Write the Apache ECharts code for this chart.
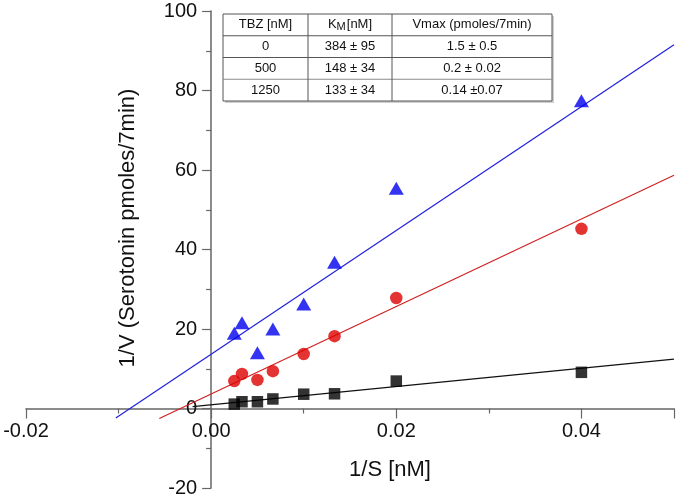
<!DOCTYPE html>
<html>
<head>
<meta charset="utf-8">
<script src="https://cdn.jsdelivr.net/npm/echarts@6/dist/echarts.min.js"></script>
<style>
html,body{margin:0;padding:0;background:#fff;}
#chart{width:677px;height:496px;}
</style>
</head>
<body>
<div id="chart"></div>
<script>
// ---- data ----
var xTickLabels = ['-0.02', '0.00', '0.02', '0.04'];
var yTickLabels = ['-20', '0', '20', '40', '60', '80', '100'];

var tbz0 = [[0.0025, 1.1], [0.00333, 1.7], [0.005, 1.7], [0.00667, 2.4], [0.01, 3.6], [0.01333, 3.7], [0.02, 6.9], [0.04, 9.1]];
var tbz500 = [[0.0025, 6.9], [0.00333, 8.7], [0.005, 7.2], [0.00667, 9.4], [0.01, 13.7], [0.01333, 18.2], [0.02, 27.8], [0.04, 45.2]];
var tbz1250 = [[0.0025, 18.9], [0.00333, 21.6], [0.005, 14.0], [0.00667, 20.0], [0.01, 26.3], [0.01333, 36.8], [0.02, 55.4], [0.04, 77.4]];

var fit0 = [[-0.002, 0.45], [0.05, 12.4]];
var fit500 = [[-0.0056, -2.5], [0.05, 58.7]];
var fit1250 = [[-0.0103, -2.4], [0.05, 91.5]];

var tableHeader = ['TBZ [nM]', 'KM[nM]', 'Vmax (pmoles/7min)'];
var tableRows = [
  ['0', '384 \u00B1 95', '1.5 \u00B1 0.5'],
  ['500', '148 \u00B1 34', '0.2 \u00B1 0.02'],
  ['1250', '133 \u00B1 34', '0.14 \u00B10.07']
];

// ---- chart ----
var W = 677, H = 496;
var GL = 26, GR = 3, GT = 11, GB = 8;
var XMIN = -0.02, XMAX = 0.05, YMIN = -20, YMAX = 100;
// shift axes so they cross at the origin (labels travel with the lines)
var yAxisOffset = -((0 - XMIN) / (XMAX - XMIN)) * (W - GL - GR);
var xAxisOffset = -((0 - YMIN) / (YMAX - YMIN)) * (H - GT - GB);

var chart = echarts.init(document.getElementById('chart'), null, {renderer: 'canvas'});
var FONT = 'Liberation Sans, Arial, sans-serif';
var axisGray = '#666666';

// table graphic
var tX = 223, tY = 14, colX = [223, 308, 392, 552], rowH = 21.75;
var tW = colX[3] - colX[0], tH = rowH * 4;
var g = [];
g.push({type: 'rect', shape: {x: tX + 2, y: tY + 2, width: tW, height: tH}, style: {fill: '#cfcfcf'}, z: 10});
g.push({type: 'rect', shape: {x: tX, y: tY, width: tW, height: tH}, style: {fill: '#fff', stroke: '#555', lineWidth: 1}, z: 11});
for (var r = 1; r < 4; r++) {
  g.push({type: 'line', shape: {x1: tX, y1: tY + rowH * r, x2: tX + tW, y2: tY + rowH * r}, style: {stroke: r === 3 ? '#8a8a8a' : '#555', lineWidth: 1}, z: 12});
}
for (var c = 1; c < 3; c++) {
  g.push({type: 'line', shape: {x1: colX[c], y1: tY, x2: colX[c], y2: tY + tH}, style: {stroke: '#555', lineWidth: 1}, z: 12});
}
function cellText(txt, col, row) {
  return {type: 'text', x: (colX[col] + colX[col + 1]) / 2, y: tY + rowH * row + rowH / 2, z: 13,
    style: {text: txt, font: '13px ' + FONT, fill: '#111', align: 'center', verticalAlign: 'middle'}};
}
g.push(cellText(tableHeader[0], 0, 0));
g.push(cellText(tableHeader[2], 2, 0));
var kmCx = (colX[1] + colX[2]) / 2, kmCy = tY + rowH / 2;
g.push({type: 'text', x: kmCx, y: kmCy, z: 13,
  style: {text: '{k|K}{m|M}{n|[nM]}', align: 'center', verticalAlign: 'middle',
    rich: {k: {font: '13px ' + FONT, fill: '#111'},
           m: {font: '11px ' + FONT, fill: '#111', padding: [5, 1, 0, 0]},
           n: {font: '13px ' + FONT, fill: '#111'}}}});
for (var i = 0; i < tableRows.length; i++) {
  for (var j = 0; j < 3; j++) g.push(cellText(tableRows[i][j], j, i + 1));
}
// axis titles
g.push({type: 'text', x: 390, y: 470, z: 5,
  style: {text: '1/S [nM]', font: '22px ' + FONT, fill: '#111', align: 'center', verticalAlign: 'middle'}});
g.push({type: 'text', x: 128, y: 228, rotation: Math.PI / 2, z: 5,
  style: {text: '1/V (Serotonin pmoles/7min)', font: '22px ' + FONT, fill: '#111', align: 'center', verticalAlign: 'middle'}});

var option = {
  backgroundColor: '#fff',
  animation: false,
  grid: {left: GL, right: GR, top: GT, bottom: GB, containLabel: false, outerBoundsMode: 'none'},
  xAxis: {
    type: 'value', min: XMIN, max: XMAX, interval: 0.02, position: 'bottom', offset: xAxisOffset,
    axisLine: {onZero: false, lineStyle: {color: axisGray, width: 1.5}},
    axisTick: {show: true, inside: false, length: 10, lineStyle: {color: axisGray, width: 1.2}},
    minorTick: {show: true, splitNumber: 2, length: 5, lineStyle: {color: axisGray, width: 1.2}},
    splitLine: {show: false},
    axisLabel: {
      margin: 13, fontSize: 20, fontFamily: FONT, color: '#111', hideOverlap: false,
      formatter: function (v) {
        var k = Math.round(v * 100);
        var idx = xTickLabels.indexOf((k / 100).toFixed(2));
        return idx >= 0 ? xTickLabels[idx] : '';
      }
    }
  },
  yAxis: {
    type: 'value', min: YMIN, max: YMAX, interval: 20, position: 'left', offset: yAxisOffset,
    axisLine: {onZero: false, lineStyle: {color: axisGray, width: 1.5}},
    axisTick: {show: true, inside: false, length: 9, lineStyle: {color: axisGray, width: 1.2}},
    minorTick: {show: true, splitNumber: 2, length: 5, lineStyle: {color: axisGray, width: 1.2}},
    splitLine: {show: false},
    axisLabel: {
      margin: 14, fontSize: 20, fontFamily: FONT, color: '#111', hideOverlap: false,
      formatter: function (v) {
        var s = String(Math.round(v));
        return yTickLabels.indexOf(s) >= 0 ? s : '';
      }
    }
  },
  graphic: g,
  series: [
    {name: 'fit 0', type: 'line', data: fit0, symbol: 'none', lineStyle: {color: '#111', width: 1.2}, z: 2},
    {name: 'fit 500', type: 'line', data: fit500, symbol: 'none', lineStyle: {color: '#d02020', width: 1.2}, z: 2},
    {name: 'fit 1250', type: 'line', data: fit1250, symbol: 'none', lineStyle: {color: '#2020dd', width: 1.2}, z: 2},
    {name: 'TBZ 0 nM', type: 'scatter', data: tbz0, symbol: 'rect', symbolSize: 11.5, itemStyle: {color: '#000'}, z: 3},
    {name: 'TBZ 500 nM', type: 'scatter', data: tbz500, symbol: 'circle', symbolSize: 12.5, itemStyle: {color: '#dd0000'}, z: 3},
    {name: 'TBZ 1250 nM', type: 'scatter', data: tbz1250, symbol: 'triangle', symbolSize: [15, 13], itemStyle: {color: '#0000ee'}, z: 3}
  ]
};
chart.setOption(option);
</script>
</body>
</html>
